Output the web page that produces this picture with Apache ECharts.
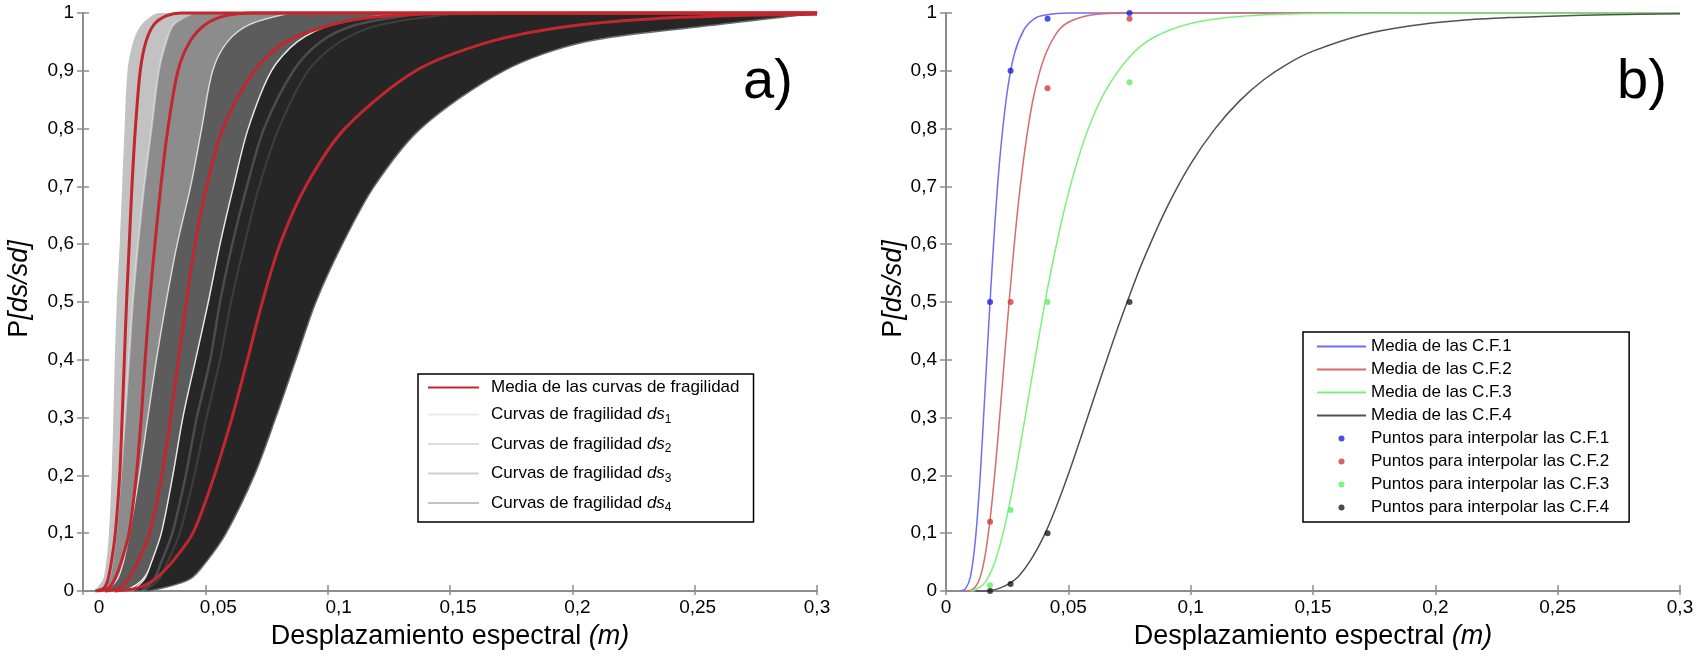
<!DOCTYPE html>
<html>
<head>
<meta charset="utf-8">
<script src="https://cdn.jsdelivr.net/npm/echarts@6/dist/echarts.min.js"></script>
<style>
html,body{margin:0;padding:0;background:#fff;}
#c{width:1699px;height:656px;}
</style>
</head>
<body>
<div id="c"></div>
<script>
// ---------- DATA ----------
const xTickLabels = ['0', '0,05', '0,1', '0,15', '0,2', '0,25', '0,3'];
const yTickLabels = ['0', '0,1', '0,2', '0,3', '0,4', '0,5', '0,6', '0,7', '0,8', '0,9', '1'];

// probability levels at which the band edges were read (panel a)
const bandLevels = [0, 0.02, 0.05, 0.1, 0.2, 0.3, 0.4, 0.5, 0.6, 0.7, 0.8, 0.9, 0.95, 0.98, 1];
const ds1Left  = [0.0050, 0.0082, 0.0095, 0.0106, 0.0117, 0.0124, 0.0130, 0.0138, 0.0150, 0.0160, 0.0170, 0.0182, 0.0205, 0.0240, 0.0310];
const ds1Right = [0.0085, 0.0125, 0.0142, 0.0160, 0.0180, 0.0195, 0.0210, 0.0225, 0.0245, 0.0270, 0.0300, 0.0330, 0.0370, 0.0420, 0.0550];
const ds2Left  = [0.0070, 0.0105, 0.0120, 0.0135, 0.0155, 0.0172, 0.0188, 0.0204, 0.0225, 0.0250, 0.0280, 0.0310, 0.0340, 0.0370, 0.0450];
const ds2Right = [0.0110, 0.0165, 0.0190, 0.0215, 0.0255, 0.0290, 0.0330, 0.0370, 0.0420, 0.0480, 0.0540, 0.0620, 0.0700, 0.0800, 0.1000];
const ds3Left  = [0.0095, 0.0140, 0.0165, 0.0190, 0.0230, 0.0265, 0.0300, 0.0340, 0.0385, 0.0440, 0.0485, 0.0530, 0.0590, 0.0680, 0.0850];
const ds3Right = [0.0160, 0.0240, 0.0280, 0.0320, 0.0380, 0.0430, 0.0480, 0.0540, 0.0620, 0.0720, 0.0850, 0.1050, 0.1250, 0.1500, 0.2000];
const ds4Left  = [0.0200, 0.0250, 0.0280, 0.0320, 0.0367, 0.0408, 0.0460, 0.0512, 0.0560, 0.0615, 0.0675, 0.0770, 0.0875, 0.1020, 0.1300];
const ds4Right = [0.0270, 0.0435, 0.0503, 0.0585, 0.0700, 0.0788, 0.0870, 0.0952, 0.1060, 0.1190, 0.1380, 0.1720, 0.2050, 0.2600, 0.3000];
// bright streaks seen inside the ds4 band
const streakA = [0.0240, 0.0290, 0.0320, 0.0365, 0.0420, 0.0465, 0.0520, 0.0560, 0.0610, 0.0670, 0.0740, 0.0860, 0.0970, 0.1120, 0.1400];
const streakB = [0.0250, 0.0310, 0.0345, 0.0395, 0.0455, 0.0505, 0.0560, 0.0605, 0.0660, 0.0720, 0.0800, 0.0920, 0.1050, 0.1220, 0.1550];

// mean fragility curves, panel a  [x (m), P]
const meanA1 = [[0.005,0],[0.0085,0.005],[0.0102,0.02],[0.0116,0.05],[0.0132,0.1],[0.015,0.2],[0.016,0.3],[0.0169,0.4],[0.0178,0.5],[0.0189,0.6],[0.0200,0.7],[0.0214,0.8],[0.0234,0.9],[0.0257,0.95],[0.029,0.98],[0.034,0.995],[0.040,1],[0.3,1]];
const meanA2 = [[0.006,0],[0.0105,0.005],[0.0129,0.02],[0.0156,0.05],[0.0188,0.1],[0.0218,0.2],[0.0238,0.3],[0.0254,0.4],[0.0272,0.5],[0.0294,0.6],[0.0318,0.7],[0.0347,0.8],[0.0388,0.9],[0.0436,0.95],[0.050,0.98],[0.058,0.995],[0.070,1],[0.3,1]];
const meanA3 = [[0.009,0],[0.015,0.005],[0.0184,0.02],[0.0224,0.05],[0.0272,0.1],[0.0322,0.2],[0.0358,0.3],[0.0390,0.4],[0.0422,0.5],[0.0458,0.6],[0.0505,0.7],[0.0572,0.8],[0.0700,0.9],[0.0830,0.95],[0.102,0.98],[0.120,0.993],[0.150,0.999],[0.3,1]];
const meanA4 = [[0.013,0],[0.022,0.005],[0.0292,0.02],[0.0364,0.05],[0.0449,0.1],[0.0537,0.2],[0.0609,0.3],[0.0672,0.4],[0.0733,0.5],[0.0805,0.6],[0.0910,0.7],[0.1070,0.8],[0.1360,0.9],[0.166,0.95],[0.195,0.975],[0.225,0.988],[0.26,0.995],[0.3,0.998]];

// mean curves, panel b
const meanB1 = [[0.006,0],[0.008,0.004],[0.010,0.025],[0.012,0.088],[0.014,0.20],[0.016,0.35],[0.018,0.50],[0.020,0.637],[0.022,0.748],[0.025,0.863],[0.028,0.930],[0.032,0.972],[0.036,0.990],[0.040,0.996],[0.050,1],[0.3,1]];
const meanB2 = [[0.008,0],[0.010,0.001],[0.012,0.007],[0.014,0.024],[0.016,0.062],[0.018,0.123],[0.020,0.206],[0.022,0.304],[0.024,0.408],[0.026,0.51],[0.028,0.604],[0.030,0.687],[0.033,0.786],[0.036,0.859],[0.040,0.921],[0.045,0.964],[0.050,0.984],[0.060,0.997],[0.075,1],[0.3,1]];
const meanB3 = [[0.010,0],[0.012,0.002],[0.014,0.007],[0.016,0.015],[0.018,0.030],[0.020,0.050],[0.023,0.094],[0.026,0.151],[0.030,0.243],[0.034,0.342],[0.038,0.441],[0.042,0.534],[0.047,0.635],[0.052,0.719],[0.058,0.798],[0.065,0.864],[0.075,0.924],[0.085,0.958],[0.10,0.982],[0.12,0.994],[0.15,0.999],[0.2,1],[0.3,1]];
const meanB4 = [[0.012,0],[0.018,0.001],[0.022,0.005],[0.026,0.013],[0.030,0.027],[0.035,0.056],[0.040,0.095],[0.045,0.145],[0.050,0.202],[0.055,0.264],[0.060,0.328],[0.065,0.391],[0.070,0.453],[0.075,0.511],[0.080,0.566],[0.090,0.661],[0.10,0.739],[0.11,0.800],[0.12,0.848],[0.13,0.885],[0.14,0.913],[0.15,0.934],[0.17,0.962],[0.19,0.978],[0.21,0.987],[0.23,0.992],[0.25,0.995],[0.27,0.997],[0.30,0.9985]];

// interpolation points, panel b
const pts1 = [[0.018,0.5],[0.0264,0.9],[0.0415,0.99],[0.075,1.0]];
const pts2 = [[0.018,0.12],[0.0264,0.5],[0.0415,0.87],[0.075,0.99]];
const pts3 = [[0.018,0.01],[0.0264,0.14],[0.0415,0.5],[0.075,0.88]];
const pts4 = [[0.018,0.0],[0.0264,0.012],[0.0415,0.10],[0.075,0.5]];

// ---------- STYLE ----------
const FONT = 'Liberation Sans, Arial, Helvetica, sans-serif';
const AX = '#8d8d8d';
const leftLabelShift = [16, 13, 11, 8, 5, 3, 0];
const bandColors = ['#c2c2c2', '#8c8c8c', '#5c5c5c', '#262626'];
const meanRed = '#c1272d';

function pairs(xs) { return xs.map((x, i) => [x, bandLevels[i]]); }
function polygon(L, R) { return pairs(L).concat(pairs(R).reverse()); }

function bandSeries(name, L, R, color, stroke) {
  const poly = polygon(L, R);
  return {
    type: 'custom', name: name, xAxisIndex: 0, yAxisIndex: 0, silent: true,
    itemStyle: { color: color },
    encode: { x: 0, y: 1 },
    data: poly,
    renderItem: function (params, api) {
      if (params.dataIndex !== 0) return null;
      const lo = api.coord([0, 1]), hi = api.coord([0.3, 0]);
      return {
        type: 'polygon',
        shape: { points: poly.map(p => api.coord(p)), smooth: 0.3, smoothConstraint: [lo, hi] },
        style: { fill: color, stroke: stroke || null, lineWidth: stroke ? 1.5 : 0 }
      };
    }
  };
}
function edgeLine(xs, color, w) {
  return { type: 'line', xAxisIndex: 0, yAxisIndex: 0, silent: true, symbol: 'none', clip: false,
    smooth: 0.3, data: pairs(xs), lineStyle: { color: color, width: w }, z: 3 };
}
function redLine(d) {
  return { type: 'line', name: 'Media de las curvas de fragilidad', xAxisIndex: 0, yAxisIndex: 0,
    symbol: 'none', clip: false, smooth: 0.3,
    data: d, color: meanRed, lineStyle: { color: meanRed, width: 3 }, z: 5 };
}
function meanLine(name, d, color) {
  return { type: 'line', name: name, xAxisIndex: 2, yAxisIndex: 2, symbol: 'none', clip: false,
    smooth: 0.3, data: d, color: color, lineStyle: { color: color, width: 1.5 }, z: 3 };
}
function ptsSeries(name, d, color) {
  return { type: 'scatter', name: name, xAxisIndex: 2, yAxisIndex: 2, symbol: 'circle', symbolSize: 6,
    clip: false, data: d, itemStyle: { color: color }, z: 6 };
}

function xAxisBottom(grid, shift) {
  const rich = {};
  shift.forEach((s, i) => { rich['o' + i] = { fontSize: 19, fontFamily: FONT, color: '#000', padding: [0, 0, 0, 2 * s] }; });
  return {
    gridIndex: grid, type: 'value', position: 'bottom', min: 0, max: 0.3, interval: 0.05,
    axisLine: { lineStyle: { color: AX, width: 2 } },
    axisTick: { inside: true, length: 6, lineStyle: { color: AX, width: 1.5 } },
    splitLine: { show: false },
    axisLabel: { margin: 7, formatter: v => '{o' + Math.round(v / 0.05) + '|' + xTickLabels[Math.round(v / 0.05)] + '}', rich: rich },
    name: 'Desplazamiento espectral {i|(m)}', nameLocation: 'middle', nameGap: 32,
    nameTextStyle: { fontSize: 27, fontFamily: FONT, color: '#000', rich: { i: { fontSize: 27, fontFamily: FONT, fontStyle: 'italic', color: '#000' } } }
  };
}
function xAxisTop(grid) {
  return { gridIndex: grid, type: 'value', position: 'top', min: 0, max: 0.3, interval: 0.05,
    axisLine: { lineStyle: { color: AX, width: 2 } },
    axisTick: { inside: true, length: 4, lineStyle: { color: AX, width: 1.5 } },
    axisLabel: { show: false }, splitLine: { show: false } };
}
function yAxisLeft(grid, gap) {
  return {
    gridIndex: grid, type: 'value', position: 'left', min: 0, max: 1, interval: 0.1,
    axisLine: { show: true, lineStyle: { color: AX, width: 2 } },
    axisTick: { show: true, inside: true, length: 6, lineStyle: { color: AX, width: 1.5 } },
    splitLine: { show: false },
    axisLabel: { margin: 9, fontSize: 19, fontFamily: FONT, color: '#000', formatter: v => yTickLabels[Math.round(v * 10)] },
    name: '{p|P}{i|[ds/sd]}', nameLocation: 'middle', nameGap: gap, nameRotate: 90,
    nameTextStyle: { padding: [0, 0, 0, 26], rich: {
      p: { fontSize: 27, fontFamily: FONT, color: '#000' },
      i: { fontSize: 27, fontFamily: FONT, color: '#000', fontStyle: 'italic' } } }
  };
}
function yAxisRight(grid) {
  return { gridIndex: grid, type: 'value', position: 'right', min: 0, max: 1, interval: 0.1,
    axisLine: { show: true, lineStyle: { color: AX, width: 2 } },
    axisTick: { show: true, inside: true, length: 6, lineStyle: { color: AX, width: 1.5 } },
    axisLabel: { show: false }, splitLine: { show: false } };
}

const legendRich = {
  t: { fontSize: 17, fontFamily: FONT, color: '#000', lineHeight: 22 },
  i: { fontSize: 17, fontFamily: FONT, color: '#000', fontStyle: 'italic', lineHeight: 22 },
  s: { fontSize: 12, fontFamily: FONT, color: '#000', lineHeight: 12, verticalAlign: 'bottom' }
};
const dsNames = ['Curvas de fragilidad ds1', 'Curvas de fragilidad ds2', 'Curvas de fragilidad ds3', 'Curvas de fragilidad ds4'];
const dsIconColors = ['#ebebeb', '#dddddd', '#d0d0d0', '#c3c3c3'];
const lineNamesB = ['Media de las C.F.1', 'Media de las C.F.2', 'Media de las C.F.3', 'Media de las C.F.4'];
const ptNamesB = ['Puntos para interpolar las C.F.1', 'Puntos para interpolar las C.F.2', 'Puntos para interpolar las C.F.3', 'Puntos para interpolar las C.F.4'];

const chart = echarts.init(document.getElementById('c'), null, { renderer: 'canvas' });
chart.setOption({
  animation: false,
  backgroundColor: '#fff',
  grid: [
    { left: 83, top: 13, width: 734, height: 578 },
    { left: 946, top: 13, width: 734, height: 578 }
  ],
  xAxis: [xAxisBottom(0, leftLabelShift), xAxisTop(0), xAxisBottom(1, [0, 0, 0, 0, 0, 0, 0]), xAxisTop(1)],
  yAxis: [yAxisLeft(0, 50), yAxisRight(0), yAxisLeft(1, 33), yAxisRight(1)],
  legend: [
    {
      orient: 'vertical', left: 418, top: 374, backgroundColor: '#fff',
      borderColor: '#000', borderWidth: 1.5, borderRadius: 0, padding: [5, 14, 8, 9],
      itemWidth: 51, itemHeight: 2, itemGap: 10, selectedMode: false,
      data: [{ name: 'Media de las curvas de fragilidad' }].concat(dsNames.map((n, i) => ({ name: n, icon: 'rect', itemStyle: { color: dsIconColors[i] } }))),
      formatter: function (name) {
        const m = name.match(/^(.*) ds(\d)$/);
        if (m) return '{t|' + m[1] + ' }{i|ds}{s|' + m[2] + '}';
        return '{t|' + name + '}';
      },
      textStyle: { padding: [0, 0, 0, 7], rich: legendRich }
    },
    {
      orient: 'vertical', left: 1303, top: 332, backgroundColor: '#fff',
      borderColor: '#000', borderWidth: 1.5, borderRadius: 0, padding: [6, 20, 6, 13],
      itemWidth: 49, itemHeight: 6, itemGap: 6, selectedMode: false,
      data: lineNamesB.map(n => ({ name: n, itemStyle: { opacity: 0 } })).concat(ptNamesB.map(n => ({ name: n }))),
      textStyle: { fontSize: 17, fontFamily: FONT, color: '#000', lineHeight: 17 }
    }
  ],
  graphic: [
    { type: 'text', left: 743, top: 55, style: { text: 'a)', fontSize: 56, fontFamily: FONT, fill: '#000' } },
    { type: 'text', left: 1617, top: 55, style: { text: 'b)', fontSize: 56, fontFamily: FONT, fill: '#000' } }
  ],
  series: [
    bandSeries(dsNames[0], ds1Left, ds1Right, bandColors[0]),
    bandSeries(dsNames[1], ds2Left, ds2Right, bandColors[1]),
    bandSeries(dsNames[2], ds3Left, ds3Right, bandColors[2]),
    bandSeries(dsNames[3], ds4Left, ds4Right, bandColors[3], '#6a6a6a'),
    edgeLine(ds2Left, 'rgba(235,235,235,0.55)', 2),
    edgeLine(ds3Left, 'rgba(255,255,255,0.75)', 1.4),
    edgeLine(ds4Left, 'rgba(255,255,255,0.85)', 1.4),
    edgeLine(streakA, 'rgba(150,150,150,0.35)', 2.5),
    edgeLine(streakB, 'rgba(120,120,120,0.3)', 2),
    redLine(meanA1), redLine(meanA2), redLine(meanA3), redLine(meanA4),
    meanLine(lineNamesB[0], meanB1, '#6f6ff2'),
    meanLine(lineNamesB[1], meanB2, '#d86b6b'),
    meanLine(lineNamesB[2], meanB3, '#7df07d'),
    meanLine(lineNamesB[3], meanB4, '#505050'),
    ptsSeries(ptNamesB[0], pts1, '#1f1fe0'),
    ptsSeries(ptNamesB[1], pts2, '#d23b3b'),
    ptsSeries(ptNamesB[2], pts3, '#62ec62'),
    ptsSeries(ptNamesB[3], pts4, '#1e1e1e')
  ]
});
</script>
</body>
</html>
